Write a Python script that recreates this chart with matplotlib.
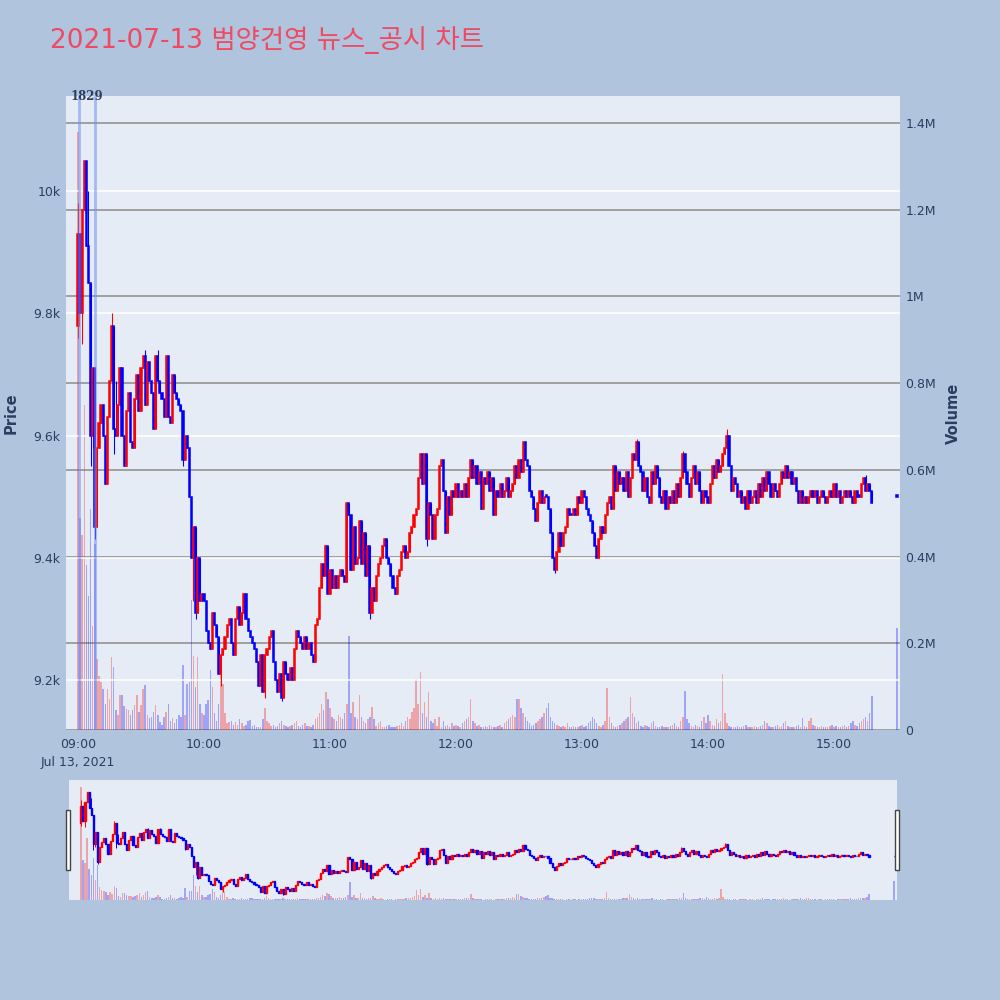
import numpy as np
import matplotlib.pyplot as plt
from matplotlib.patches import Rectangle

# 1. DATA (minute bars, 09:00 = 0)
first_open = 9780
close = [
    9930, 9800, 9970, 10050, 9910, 9850, 9600, 9710, 9450, 9580,
    9620, 9650, 9600, 9520, 9630, 9690, 9780, 9610, 9600, 9650,
    9710, 9600, 9550, 9640, 9670, 9590, 9580, 9660, 9700, 9640,
    9710, 9730, 9650, 9720, 9690, 9670, 9610, 9730, 9690, 9670,
    9660, 9630, 9730, 9630, 9620, 9700, 9670, 9660, 9650, 9640,
    9560, 9600, 9580, 9500, 9400, 9450, 9310, 9400, 9330, 9340,
    9330, 9280, 9260, 9250, 9310, 9290, 9270, 9210, 9240, 9250,
    9270, 9290, 9300, 9260, 9240, 9300, 9320, 9290, 9310, 9340,
    9300, 9280, 9270, 9260, 9250, 9230, 9190, 9240, 9180, 9240,
    9250, 9270, 9280, 9230, 9200, 9180, 9210, 9170, 9230, 9210,
    9200, 9220, 9200, 9250, 9280, 9270, 9260, 9250, 9270, 9250,
    9260, 9240, 9230, 9290, 9300, 9350, 9390, 9370, 9420, 9340,
    9380, 9350, 9370, 9350, 9370, 9380, 9370, 9360, 9490, 9470,
    9380, 9450, 9390, 9400, 9460, 9390, 9440, 9370, 9420, 9310,
    9350, 9330, 9370, 9390, 9400, 9420, 9430, 9400, 9390, 9370,
    9350, 9340, 9370, 9380, 9410, 9420, 9400, 9410, 9440, 9450,
    9470, 9480, 9530, 9570, 9520, 9570, 9430, 9490, 9470, 9430,
    9470, 9480, 9550, 9560, 9510, 9440, 9500, 9470, 9510, 9500,
    9520, 9500,
    9510, 9500, 9520, 9500, 9530, 9560, 9530, 9550, 9520, 9540,
    9480, 9530, 9520, 9540, 9510, 9530, 9470, 9510, 9500, 9520,
    9500, 9510, 9530, 9500, 9510, 9520, 9550, 9530, 9560, 9540,
    9590, 9560, 9550, 9510, 9500, 9480, 9460, 9490, 9510, 9490,
    9500, 9500, 9480, 9440, 9400, 9380, 9410, 9440, 9420, 9440,
    9450, 9480, 9470, 9470, 9480, 9470, 9500, 9490, 9510, 9500,
    9480, 9470, 9460, 9440, 9420, 9400, 9430, 9450, 9440, 9470,
    9490, 9500, 9480, 9550, 9510, 9540, 9520, 9530, 9510, 9540,
    9500, 9530, 9570, 9560, 9590, 9550, 9540, 9510, 9530, 9500,
    9490, 9540, 9520, 9550, 9530, 9500, 9490, 9510, 9480, 9500,
    9490, 9510, 9490, 9520, 9500, 9530, 9570, 9540, 9520, 9500,
    9530, 9550, 9520, 9540, 9510, 9490, 9510, 9500, 9490, 9520,
    9550, 9530, 9560, 9540, 9550, 9570, 9580, 9600, 9550, 9510,
    9530, 9520, 9500, 9510, 9490, 9500, 9480, 9510, 9490, 9500,
    9510, 9490, 9520, 9500, 9530, 9510, 9540, 9520, 9500, 9520,
    9510, 9500, 9520, 9540, 9530, 9550, 9530, 9540, 9520, 9530,
    9510, 9490, 9510, 9490, 9500, 9490, 9500, 9510, 9500, 9510,
    9490, 9500, 9510, 9500, 9490, 9500, 9510, 9500, 9520, 9500,
    9510, 9490, 9500, 9510, 9500, 9510, 9500, 9490, 9510, 9500,
    9500, 9520, 9530, 9510, 9520, 9510, 9490,
]
# notable wicks: minute -> (high, low)
wicks = {
    0: (9980, 9760), 2: (9970, 9750), 4: (10050, 9910), 5: (10000, 9850),
    6: (9850, 9550), 7: (9710, 9580), 8: (9710, 9430), 9: (9580, 9490),
    16: (9800, 9690), 17: (9780, 9570), 18: (9690, 9600), 32: (9740, 9650),
    38: (9740, 9690), 43: (9730, 9630), 50: (9640, 9550), 55: (9450, 9330),
    56: (9450, 9300), 68: (9240, 9190), 89: (9240, 9170), 97: (9210, 9165),
    139: (9420, 9300), 166: (9570, 9420), 175: (9510, 9440), 212: (9590, 9540),
    227: (9400, 9375), 266: (9595, 9560), 288: (9575, 9530), 309: (9610, 9580),
    375: (9535, 9510),
}
volume_k = [
    1380, 490, 450, 750, 380, 310, 510, 240, 430, 164,
    125, 110, 95, 60, 95, 72, 168, 145, 46, 35,
    81, 80, 56, 48, 46, 35, 46, 58, 81, 42,
    58, 95, 104, 35, 28, 30, 42, 58, 35, 18,
    12, 30, 42, 60, 20, 28, 15, 25, 35, 30,
    150, 35, 106, 110, 300, 170, 100, 168, 60, 40,
    35, 60, 70, 139, 100, 40, 20, 60, 127, 106,
    40, 15, 18, 20, 12, 18, 12, 25, 15, 10,
    12, 20, 22, 10, 12, 8, 8, 8, 25, 50,
    20, 15, 10, 12, 8, 10, 15, 20, 12, 10,
    8, 10, 12, 15, 20, 10, 8, 12, 15, 10,
    10, 8, 12, 25, 30, 40, 60, 45, 88, 72,
    50, 30, 25, 20, 35, 30, 25, 40, 60, 217,
    40, 65, 30, 25, 81, 30, 20, 15, 25, 30,
    53, 25, 10, 15, 20, 8, 6, 10, 12, 8,
    6, 8, 10, 12, 15, 10, 20, 30, 25, 42,
    50, 118, 60, 134, 40, 65, 30, 88, 20, 15,
    25, 10, 30, 8, 20, 10, 12, 8, 15, 10,
    12, 10, 8, 15, 20, 25, 30, 72, 20, 15,
    10, 12, 8, 6, 10, 8, 12, 10, 6, 8,
    10, 12, 8, 15, 20, 25, 30, 35, 30, 72,
    72, 50, 40, 30, 20, 15, 10, 12, 15, 20,
    25, 30, 40, 50, 62, 30, 20, 15, 12, 10,
    8, 10, 6, 15, 8, 6, 10, 8, 6, 10,
    12, 8, 10, 15, 20, 30, 25, 15, 10, 8,
    12, 20, 97, 30, 15, 10, 8, 10, 12, 15,
    20, 25, 30, 76, 40, 30, 15, 20, 10, 8,
    12, 10, 8, 15, 20, 10, 8, 6, 10, 8,
    6, 8, 10, 12, 15, 10, 8, 20, 30, 90,
    25, 15, 10, 8, 12, 10, 8, 20, 30, 15,
    35, 20, 12, 10, 25, 15, 20, 129, 40, 15,
    10, 8, 6, 8, 10, 6, 8, 10, 12, 8,
    6, 8, 10, 6, 8, 10, 12, 20, 15, 10,
    8, 6, 10, 12, 8, 10, 15, 20, 10, 8,
    6, 8, 10, 12, 8, 28, 10, 8, 20, 28,
    12, 10, 8, 6, 10, 8, 6, 8, 10, 12,
    8, 10, 6, 8, 10, 12, 8, 10, 15, 20,
    12, 10, 15, 20, 25, 30, 20, 40, 79,
]
# closing auction at 15:30
auction_minute = 390
auction_price = 9500
auction_volume_k = 236

news_minutes = [0.3, 8.1]
news_label = '1829'
news_label_minute = 4.3

hour_ticks = [0, 60, 120, 180, 240, 300, 360]
hour_labels = ['09:00\nJul 13, 2021', '10:00', '11:00', '12:00', '13:00', '14:00', '15:00']
price_ticks = [9200, 9400, 9600, 9800, 10000]
price_labels = ['9.2k', '9.4k', '9.6k', '9.8k', '10k']
vol_ticks = [0, 200e3, 400e3, 600e3, 800e3, 1e6, 1.2e6, 1.4e6]
vol_labels = ['0', '0.2M', '0.4M', '0.6M', '0.8M', '1M', '1.2M', '1.4M']

# 2. BUILD OHLC
n = len(close)
minutes = np.append(np.arange(n), auction_minute).astype(float)
c = np.array(close + [auction_price], dtype=float)
o = np.empty_like(c)
o[0] = first_open
o[1:n] = c[:n - 1]
o[n] = auction_price
hi = np.maximum(o, c)
lo = np.minimum(o, c)
for m, (h, l) in wicks.items():
    hi[m] = max(hi[m], h)
    lo[m] = min(lo[m], l)
vol = np.array(volume_k[:n] + [auction_volume_k], dtype=float) * 1000
up = c > o
RED, BLUE = '#FF0000', '#0000FF'
cols = np.where(up, RED, BLUE)

BG = '#B0C4DE'
PLOT_BG = '#E5ECF6'
TXT = '#2a3f5f'
XLIM = (-5.7, 391.4)
PLIM = (9118, 10156)
VLIM = (0, 1.462e6)

plt.rcParams['font.family'] = ['DejaVu Sans']

fig = plt.figure(figsize=(10, 10), dpi=100, facecolor=BG)


def draw_candles(ax, body_w, lw):
    ax.vlines(minutes, lo, hi, colors=cols, linewidth=lw * 0.7, zorder=3)
    h = np.maximum(np.abs(c - o), 2)
    ax.bar(minutes, h, bottom=np.minimum(o, c), width=body_w,
           color=cols, edgecolor=cols, linewidth=lw, zorder=3)


# 3. MAIN PANEL
ax_vol = fig.add_axes([0.066, 0.27, 0.834, 0.634])
ax = ax_vol.twinx()
ax_vol.yaxis.tick_right()
ax.yaxis.tick_left()
ax_vol.set_facecolor(PLOT_BG)
ax.set_zorder(ax_vol.get_zorder() + 1)
ax.patch.set_visible(False)

ax_vol.bar(minutes, vol, width=0.7, color=cols, alpha=0.3, linewidth=0, zorder=2)
ax_vol.set_ylim(*VLIM)
ax_vol.set_yticks(vol_ticks)
ax_vol.set_yticklabels(vol_labels)
ax_vol.grid(axis='y', color='#9a9a9a', linewidth=1.3, zorder=1)
ax_vol.set_axisbelow(True)

draw_candles(ax, 0.55, 1.1)
ax.set_ylim(*PLIM)
ax.set_yticks(price_ticks)
ax.set_yticklabels(price_labels)
ax.grid(axis='y', color='white', linewidth=1.1, zorder=0)

for m in news_minutes:
    ax.axvline(m, color='#6f8ff0', alpha=0.55, linewidth=2, zorder=4)
ax.text(news_label_minute, PLIM[1], news_label, ha='center', va='center', fontsize=8.5,
        color='#2a3f5f', family='DejaVu Serif', fontweight='bold', zorder=5, clip_on=False)

for a in (ax, ax_vol):
    a.set_xlim(*XLIM)
    for s in a.spines.values():
        s.set_visible(False)
    a.tick_params(length=0, colors=TXT, labelsize=9)

ax_vol.set_xticks(hour_ticks)
ax_vol.set_xticklabels(hour_labels, linespacing=1.5)
ax_vol.tick_params(axis='x', pad=6)
ax.tick_params(axis='y', pad=4)
ax_vol.tick_params(axis='y', pad=4)

fig.text(0.011, 0.587, 'Price', rotation=90, ha='center', va='center',
         fontsize=10.5, color=TXT, fontweight='bold')
fig.text(0.953, 0.587, 'Volume', rotation=90, ha='center', va='center',
         fontsize=10.5, color=TXT, fontweight='bold')
fig.text(0.05, 0.96, '2021-07-13 범양건영 뉴스_공시 차트', ha='left', va='center',
         fontsize=19, color='#EF4A63', family=['DejaVu Sans', 'Noto Sans CJK KR'])

# 4. RANGE SLIDER
rs_vol = fig.add_axes([0.069, 0.10, 0.828, 0.12])
rs = rs_vol.twinx()
rs_vol.set_facecolor(PLOT_BG)
rs.set_zorder(rs_vol.get_zorder() + 1)
rs.patch.set_visible(False)
rs_vol.bar(minutes, vol, width=0.7, color=cols, alpha=0.3, linewidth=0)
rs_vol.set_ylim(*VLIM)
draw_candles(rs, 0.55, 1.0)
rs.set_ylim(*PLIM)
for a in (rs, rs_vol):
    a.set_xlim(*XLIM)
    a.set_xticks([])
    a.set_yticks([])
    for s in a.spines.values():
        s.set_visible(False)

for hx in (0.066, 0.895):
    fig.patches.append(Rectangle((hx, 0.13), 0.004, 0.06, transform=fig.transFigure,
                                 facecolor='white', edgecolor='#444444', linewidth=1))

fig.savefig('out.png', dpi=100, facecolor=BG)
